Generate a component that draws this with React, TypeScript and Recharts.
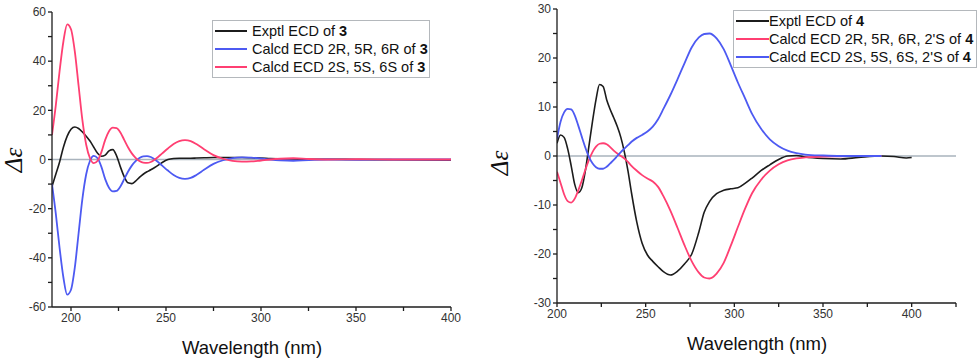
import React from 'react';
import { LineChart, Line, XAxis, YAxis, ReferenceLine } from 'recharts';

// ---- compound 3 (left panel) ----
const wl3 = [190, 192, 194, 196, 198, 200, 202, 204, 206, 208, 210, 212, 214, 216, 218, 220, 222, 224, 226, 228, 230, 232, 234, 236, 238, 240, 242, 245, 248, 251, 254, 257, 260, 263, 266, 270, 275, 280, 285, 290, 295, 300, 305, 310, 317, 325, 335, 350, 370, 400];
const exptl3 = [-11, -6, -1, 5, 9.5, 12.3, 13.2, 12.6, 11.2, 9.5, 7.5, 5, 2.5, 1.3, 1.8, 3.5, 4, 1.5, -3, -7, -9.5, -9.8, -8.8, -7.3, -6, -5, -4.2, -2.8, -1.2, 0, 0.4, 0.5, 0.5, 0.5, 0.6, 0.7, 0.8, 0.8, 0.8, 0.8, 0.7, 0.6, 0.4, 0.3, 0.2, 0.1, 0.1, 0, -0.1, -0.3];
const calcR3 = [-10, -22, -36, -48, -55, -53, -44, -30, -16, -6, -0.5, 1.5, 0.5, -3, -8, -11.5, -13, -12.8, -11, -8, -5, -2.5, -0.7, 0.6, 1.3, 1.4, 1, -0.5, -2.5, -4.5, -6.3, -7.5, -7.9, -7.5, -6.3, -4.2, -1.8, -0.3, 0.6, 0.9, 0.8, 0.4, 0, -0.3, -0.5, -0.2, 0, -0.1, 0, 0];
const calcS3 = [10, 22, 36, 48, 55, 53, 44, 30, 16, 6, 0.5, -1.5, -0.5, 3, 8, 11.5, 13, 12.8, 11, 8, 5, 2.5, 0.7, -0.6, -1.3, -1.4, -1, 0.5, 2.5, 4.5, 6.3, 7.5, 7.9, 7.5, 6.3, 4.2, 1.8, 0.3, -0.6, -0.9, -0.8, -0.4, 0, 0.3, 0.5, 0.2, 0, 0.1, 0, 0];

// ---- compound 4 (right panel) ----
const wl4 = [200, 202, 204, 206, 208, 210, 212, 214, 216, 218, 220, 222, 224, 226, 228, 230, 232, 234, 236, 238, 240, 242, 245, 248, 251, 254, 257, 260, 264, 268, 272, 276, 280, 283, 286, 290, 294, 298, 302, 306, 310, 315, 320, 325, 330, 335, 340, 350, 360, 370, 383, 390, 397, 400];
const exptl4 = [2.6, 4.3, 3.8, 1.5, -2, -5.8, -7.5, -6.5, -3, 2, 7, 11.5, 14.6, 14.2, 11.5, 9.5, 7.8, 6, 3.8, 0.8, -3, -7.5, -13.5, -17.8, -20.2, -21.5, -22.6, -23.6, -24.3, -23.5, -22, -20, -15.5, -11.5, -9.3, -7.7, -7, -6.7, -6.5, -5.6, -4.5, -3, -1.8, -0.7, 0, 0.1, -0.2, -0.5, -0.6, -0.3, 0, -0.1, -0.4, -0.3];
const calcR4 = [-3.2, -5.5, -7.8, -9.2, -9.5, -8.7, -7, -5, -2.8, -0.8, 0.8, 1.9, 2.5, 2.6, 2.4, 1.8, 1.1, 0.5, 0, -0.5, -1.2, -2, -3, -3.9, -4.6, -5.2, -6.3, -8.2, -11.2, -14.7, -18.3, -21.5, -23.8, -24.8, -25, -24, -21.8, -18.3, -14.5, -10.8, -7.6, -4.9, -3, -1.7, -0.9, -0.5, -0.3, -0.1, -0.05, 0, 0, null, null, null];
const calcS4 = [3.5, 7, 8.9, 9.6, 9.5, 8.3, 6.2, 3.9, 1.7, -0.2, -1.5, -2.3, -2.6, -2.6, -2.2, -1.5, -0.8, 0, 0.8, 1.5, 2.2, 2.9, 3.7, 4.3, 5, 6, 7.5, 9.6, 12.5, 15.7, 19, 22.2, 24.2, 24.9, 25, 24, 21.8, 18.5, 15, 11.8, 8.6, 5.6, 3.4, 2, 1.1, 0.6, 0.3, 0.1, 0, 0, 0, null, null, null];

const ticksX3 = [200, 225, 250, 275, 300, 325, 350, 375, 400];
const ticksY3 = [-60, -50, -40, -30, -20, -10, 0, 10, 20, 30, 40, 50, 60];
const ticksX4 = [200, 225, 250, 275, 300, 325, 350, 375, 400, 425];
const ticksY4 = [-30, -25, -20, -15, -10, -5, 0, 5, 10, 15, 20, 25, 30];

const data3 = wl3.map((w, i) => ({ w, exptl: exptl3[i], r: calcR3[i], s: calcS3[i] }));
const data4 = wl4.map((w, i) => ({ w, exptl: exptl4[i], r: calcR4[i], s: calcS4[i] }));

const BLACK = '#1c1c1c';
const BLUE = '#4d5af2';
const RED = '#ff3f72';
const FONT = '"Liberation Sans", Arial, sans-serif';

const tickStyle = { fontSize: 12, fill: '#333', fontFamily: FONT };

const Legend = ({ left, top, width, lineW, gap, items }) => (
  <div style={{ position: 'absolute', left, top, width, border: '1px solid #b4b8bc', background: '#fff', padding: '1px 0', fontFamily: FONT, fontSize: 14.5, color: '#111' }}>
    {items.map((it, i) => (
      <div key={i} style={{ display: 'flex', alignItems: 'center', height: 18 }}>
        <div style={{ width: lineW, height: 2, background: it.color, marginLeft: 2, marginRight: gap }} />
        <span>{it.label}<b>{it.num}</b></span>
      </div>
    ))}
  </div>
);

const AxisTitles = ({ xl, xt, yl, yt }) => (
  <>
    <div style={{ position: 'absolute', left: xl - 100, top: xt, width: 200, textAlign: 'center', fontFamily: FONT, fontSize: 18.5, color: '#111' }}>Wavelength (nm)</div>
    <div style={{ position: 'absolute', left: yl - 30, top: yt - 13, width: 60, height: 26, textAlign: 'center', transform: 'rotate(-90deg)', fontFamily: '"Liberation Serif", serif', fontStyle: 'italic', fontSize: 25, color: '#111', lineHeight: '26px' }}>Δε</div>
  </>
);

export default function App() {
  return (
    <div style={{ position: 'absolute', left: 0, top: 0, width: 980, height: 362, background: '#fff', overflow: 'hidden' }}>
      <div style={{ position: 'absolute', left: 0, top: 0 }}>
        <LineChart width={470} height={362} data={data3} margin={{ top: 12, right: 19, bottom: 25, left: 12 }}>
          <XAxis dataKey="w" type="number" domain={[190, 400]} ticks={ticksX3} allowDataOverflow
            tickSize={4} tick={tickStyle} height={30} stroke={BLACK} strokeWidth={1.3}
            tickFormatter={(v) => (v % 50 === 0 ? String(v) : '')} />
          <YAxis type="number" domain={[-60, 60]} ticks={ticksY3} allowDataOverflow
            tickSize={4} tick={tickStyle} width={40} stroke={BLACK} strokeWidth={1.3}
            tickFormatter={(v) => (v % 20 === 0 ? String(v) : '')} />
          <ReferenceLine y={0} stroke="#a9b3bd" strokeWidth={1.3} />
          <Line dataKey="exptl" type="monotone" stroke={BLACK} strokeWidth={1.6} dot={false} isAnimationActive={false} />
          <Line dataKey="r" type="monotone" stroke={BLUE} strokeWidth={1.8} dot={false} isAnimationActive={false} />
          <Line dataKey="s" type="monotone" stroke={RED} strokeWidth={1.8} dot={false} isAnimationActive={false} />
        </LineChart>
      </div>
      <AxisTitles xl={252} xt={337} yl={14} yt={160} />
      <Legend left={212} top={20} width={216} lineW={32} gap={5} items={[
        { color: BLACK, label: 'Exptl ECD of ', num: '3' },
        { color: BLUE, label: 'Calcd ECD 2R, 5R, 6R of ', num: '3' },
        { color: RED, label: 'Calcd ECD 2S, 5S, 6S of ', num: '3' },
      ]} />

      <div style={{ position: 'absolute', left: 490, top: 0 }}>
        <LineChart width={490} height={362} data={data4} margin={{ top: 9, right: 24, bottom: 29, left: 27 }}>
          <XAxis dataKey="w" type="number" domain={[200, 425]} ticks={ticksX4} allowDataOverflow
            tickSize={4} tick={tickStyle} height={30} stroke={BLACK} strokeWidth={1.3}
            tickFormatter={(v) => (v % 50 === 0 ? String(v) : '')} />
          <YAxis type="number" domain={[-30, 30]} ticks={ticksY4} allowDataOverflow
            tickSize={4} tick={tickStyle} width={40} stroke={BLACK} strokeWidth={1.3}
            tickFormatter={(v) => (v % 10 === 0 ? String(v) : '')} />
          <ReferenceLine y={0} stroke="#a9b3bd" strokeWidth={1.3} />
          <Line dataKey="exptl" type="monotone" stroke={BLACK} strokeWidth={1.6} dot={false} isAnimationActive={false} />
          <Line dataKey="r" type="monotone" stroke={RED} strokeWidth={1.8} dot={false} isAnimationActive={false} />
          <Line dataKey="s" type="monotone" stroke={BLUE} strokeWidth={1.8} dot={false} isAnimationActive={false} />
        </LineChart>
      </div>
      <AxisTitles xl={757} xt={333} yl={500} yt={163} />
      <Legend left={733} top={10} width={242} lineW={33} gap={0} items={[
        { color: BLACK, label: 'Exptl ECD of ', num: '4' },
        { color: RED, label: "Calcd ECD 2R, 5R, 6R, 2'S of ", num: '4' },
        { color: BLUE, label: "Calcd ECD 2S, 5S, 6S, 2'S of ", num: '4' },
      ]} />
    </div>
  );
}
